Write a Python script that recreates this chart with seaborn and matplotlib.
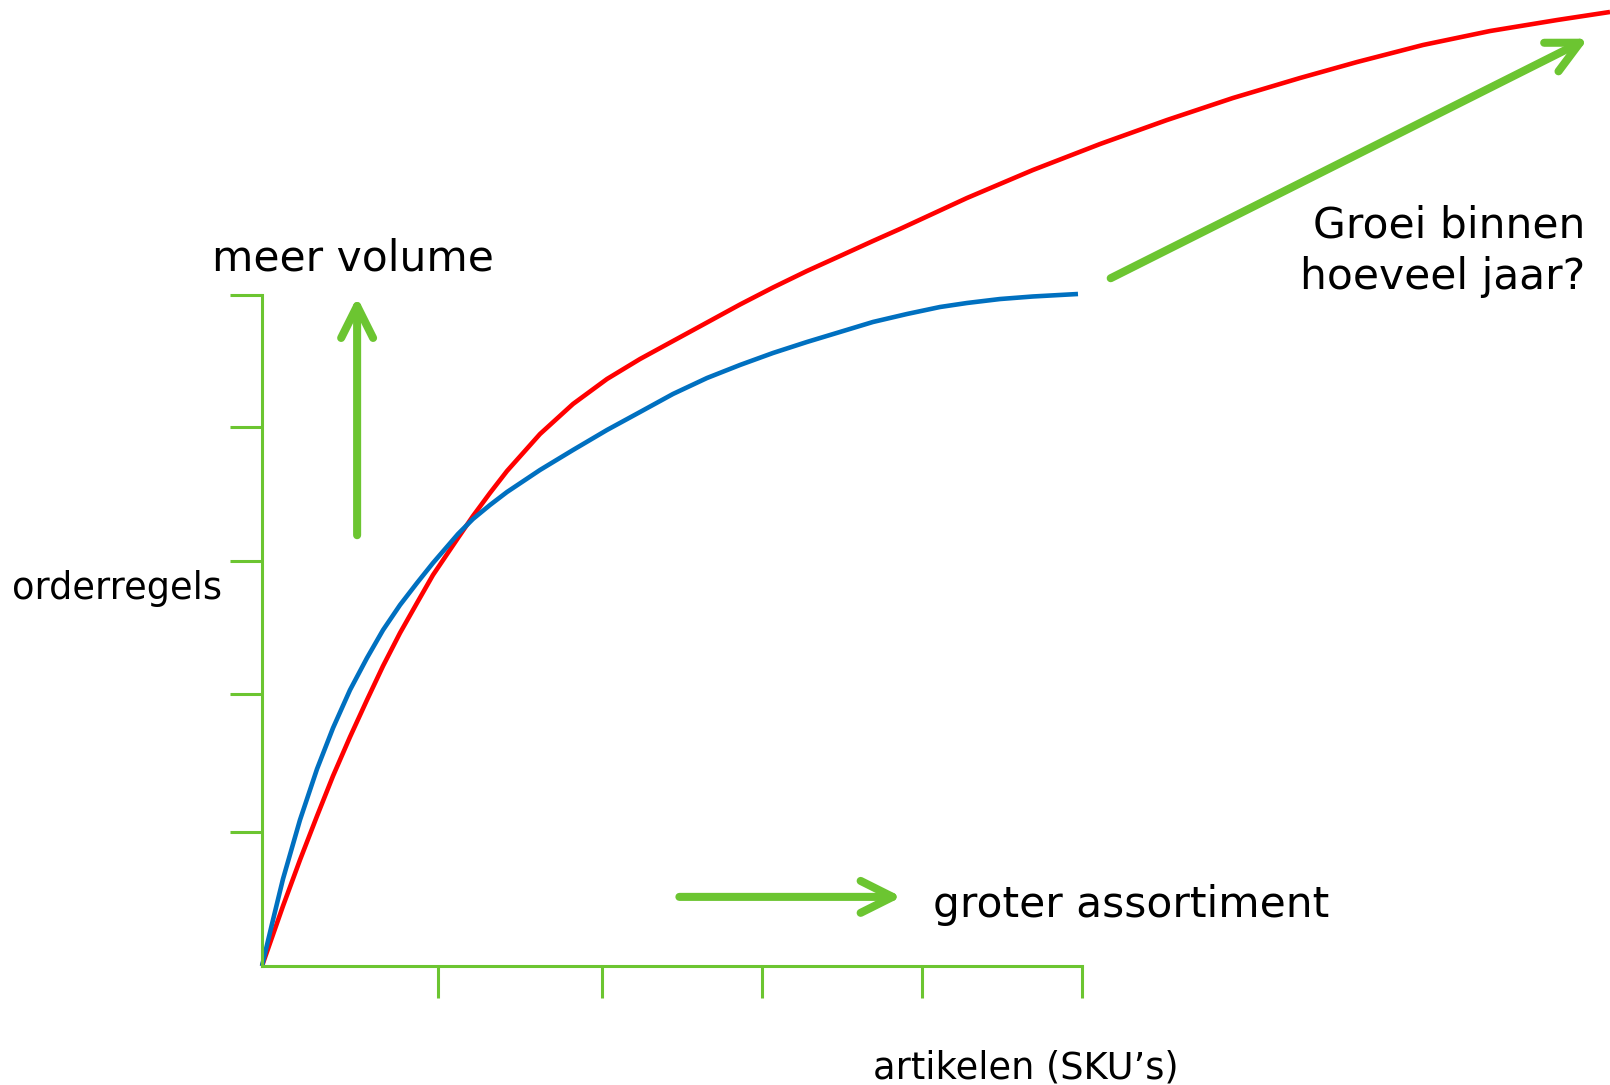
import matplotlib
matplotlib.use("Agg")
import matplotlib.pyplot as plt
import seaborn as sns

# curves, in percent of the green axes (0..100 along each axis)
blue_x = [0, 1.22, 2.56, 4.63, 6.71, 8.66, 10.73, 12.80, 14.76, 16.83, 18.90,
          20.85, 23.90, 25.73, 27.80, 29.88, 33.90, 37.93, 42.07, 46.10, 50.12,
          54.27, 58.29, 62.32, 66.46, 70.49, 74.51, 78.66, 82.68, 85.98, 90.00,
          94.02, 99.51]
blue_y = [0, 6.26, 12.97, 21.76, 29.36, 35.47, 41.13, 45.90, 50.07, 53.80, 57.08,
          60.06, 64.38, 66.62, 68.70, 70.64, 73.92, 76.90, 79.88, 82.56, 85.25,
          87.63, 89.57, 91.36, 93.00, 94.49, 95.98, 97.17, 98.21, 98.81, 99.40,
          99.78, 100.15]

red_x = [0, 2.56, 4.63, 6.71, 8.66, 10.73, 12.80, 14.76, 16.83, 18.90, 20.85,
         23.90, 25.73, 27.80, 29.88, 33.90, 37.93, 42.07, 46.10, 50.12, 54.27,
         58.29, 62.32, 66.46, 70.49, 74.51, 77.80, 85.98, 94.02, 102.20, 110.37,
         118.41, 126.59, 133.54, 141.59, 149.76, 157.93, 164.39]
red_y = [0, 8.94, 15.80, 22.35, 28.32, 34.13, 39.64, 44.71, 49.63, 54.10, 58.27,
         63.79, 67.06, 70.49, 73.77, 79.28, 83.76, 87.48, 90.46, 93.14, 95.90,
         98.58, 101.12, 103.58, 105.81, 108.05, 109.84, 114.46, 118.63, 122.50, 126.08,
         129.36, 132.34, 134.72, 137.26, 139.34, 140.98, 142.18]

x_ticks = [21.5, 41.5, 61.0, 80.5, 100]
y_ticks = [20.0, 40.5, 60.4, 80.3, 100]

GREEN = "#6cc531"
BLUE = "#0070c0"
RED = "#ff0000"

sns.set_style("white")
plt.rcParams["font.family"] = ["DejaVu Sans"]
plt.rcParams["text.color"] = "black"

fig = plt.figure(figsize=(16.1, 10.85), dpi=100)
ax = fig.add_axes([262 / 1610, 119 / 1085, 820 / 1610, 671 / 1085])

sns.lineplot(x=red_x, y=red_y, color=RED, linewidth=3.3, sort=False, estimator=None, ax=ax)
sns.lineplot(x=blue_x, y=blue_y, color=BLUE, linewidth=3.3, sort=False, estimator=None, ax=ax)
for line in ax.lines:
    line.set_clip_on(False)
    line.set_solid_capstyle("butt")
    line.set_solid_joinstyle("round")

ax.set_xlim(0, 100)
ax.set_ylim(0, 100)

# green axes with outward ticks, no labels
for side in ["top", "right"]:
    ax.spines[side].set_visible(False)
for side in ["left", "bottom"]:
    ax.spines[side].set_color(GREEN)
    ax.spines[side].set_linewidth(2.2)
ax.set_xticks(x_ticks)
ax.set_yticks(y_ticks)
ax.set_xticklabels([])
ax.set_yticklabels([])
ax.tick_params(axis="both", direction="out", length=23, width=2.2, color=GREEN)
ax.tick_params(bottom=True, left=True)
ax.patch.set_alpha(0)

# green arrows
arrow_kw = dict(arrowstyle="->,head_length=23,head_width=11.5", lw=5.8, color=GREEN,
                shrinkA=0, shrinkB=0, mutation_scale=1, capstyle="round")
ax.annotate("", xy=(0.116, 0.997), xytext=(0.116, 0.642), xycoords="axes fraction",
            arrowprops=arrow_kw, annotation_clip=False)
ax.annotate("", xy=(0.780, 0.103), xytext=(0.509, 0.103), xycoords="axes fraction",
            arrowprops=arrow_kw, annotation_clip=False)
ax.annotate("", xy=(1.617, 1.382), xytext=(1.035, 1.025), xycoords="axes fraction",
            arrowprops=arrow_kw, annotation_clip=False)

# labels
big = 30.5
small = 26.5
ax.text(0.111, 1.037, "meer volume", fontsize=big, ha="center", va="baseline",
        transform=ax.transAxes)
ax.text(1.614, 1.086, "Groei binnen", fontsize=big, ha="right", va="baseline",
        transform=ax.transAxes)
ax.text(1.614, 1.009, "hoeveel jaar?", fontsize=big, ha="right", va="baseline",
        transform=ax.transAxes)
ax.text(0.818, 0.073, "groter assortiment", fontsize=big, ha="left", va="baseline",
        transform=ax.transAxes)
ax.text(-0.305, 0.547, "orderregels", fontsize=small, ha="left", va="baseline",
        transform=ax.transAxes)
ax.text(0.745, -0.167, "artikelen (SKU\u2019s)", fontsize=small, ha="left", va="baseline",
        transform=ax.transAxes)

fig.savefig("out.png", dpi=100)
